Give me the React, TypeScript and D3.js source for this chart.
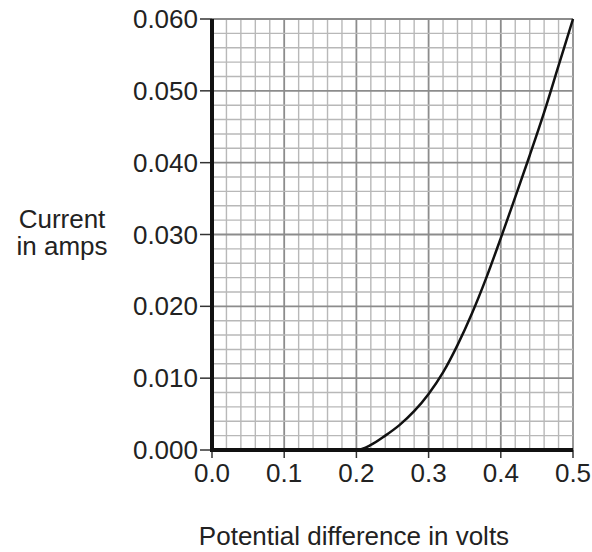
import * as d3 from "d3";

// readings (volts, amps)
const voltage = [0, 0.1, 0.2, 0.22, 0.24, 0.26, 0.28, 0.3, 0.32, 0.34, 0.36, 0.38, 0.4, 0.42, 0.44, 0.46, 0.48, 0.5];
const current = [0, 0, 0, 0.0007, 0.002, 0.0035, 0.0054, 0.0078, 0.0108, 0.0146, 0.019, 0.024, 0.0295, 0.0352, 0.041, 0.047, 0.0535, 0.06];

const xTicks = [0, 0.1, 0.2, 0.3, 0.4, 0.5];
const yTicks = [0, 0.01, 0.02, 0.03, 0.04, 0.05, 0.06];

export default function App() {
  const width = 592;
  const height = 552;
  const left = 212;
  const right = 573;
  const top = 19;
  const bottom = 450;
  const font = "'Liberation Sans', Arial, sans-serif";

  const x = d3.scaleLinear().domain([0, 0.5]).range([left, right]);
  const y = d3.scaleLinear().domain([0, 0.06]).range([bottom, top]);

  const points = voltage.map((v, i) => ({ v, a: current[i] }));
  const line = d3
    .line<{ v: number; a: number }>()
    .x((d) => x(d.v))
    .y((d) => y(d.a))
    .curve(d3.curveMonotoneX);

  // 5 minor divisions per major step
  const xGrid = d3.range(0, 26).map((i) => i * 0.02);
  const yGrid = d3.range(0, 31).map((i) => i * 0.002);

  return (
    <svg
      width={width}
      height={height}
      style={{ position: "fixed", left: 0, top: 0, background: "white" }}
    >
      {/* grid */}
      <g>
        {xGrid.map((t, i) => (
          <line
            key={"gx" + i}
            x1={x(t)}
            x2={x(t)}
            y1={top}
            y2={bottom}
            stroke={i % 5 === 0 ? "#8c8c8c" : "#b8b8b8"}
            strokeWidth={i % 5 === 0 ? 1.8 : 1.4}
          />
        ))}
        {yGrid.map((t, i) => (
          <line
            key={"gy" + i}
            x1={left}
            x2={right}
            y1={y(t)}
            y2={y(t)}
            stroke={i % 5 === 0 ? "#8c8c8c" : "#b8b8b8"}
            strokeWidth={i % 5 === 0 ? 1.8 : 1.4}
          />
        ))}
      </g>
      {/* axes ticks and labels */}
      <g fontFamily={font} fontSize={26} fill="#222">
        {yTicks.map((t) => (
          <g key={"yt" + t}>
            <line x1={left - 12} x2={left} y1={y(t)} y2={y(t)} stroke="#333" strokeWidth={1.5} />
            <text x={left - 14} y={y(t)} textAnchor="end" dominantBaseline="central">
              {t.toFixed(3)}
            </text>
          </g>
        ))}
        {xTicks.map((t) => (
          <g key={"xt" + t}>
            <line x1={x(t)} x2={x(t)} y1={bottom} y2={bottom + 8} stroke="#333" strokeWidth={1.5} />
            <text x={x(t)} y={482} textAnchor="middle">
              {t.toFixed(1)}
            </text>
          </g>
        ))}
      </g>
      <line x1={left} x2={left} y1={top} y2={bottom + 2} stroke="#111" strokeWidth={4} />
      <line x1={left} x2={right} y1={bottom} y2={bottom} stroke="#111" strokeWidth={4} />
      {/* curve */}
      <path d={line(points) ?? ""} fill="none" stroke="#111" strokeWidth={2.5} />
      {/* axis titles */}
      <g fontFamily={font} fontSize={26} fill="#222" textAnchor="middle">
        <text x={62} y={228}>Current</text>
        <text x={62} y={255}>in amps</text>
        <text x={354} y={545}>Potential difference in volts</text>
      </g>
    </svg>
  );
}
